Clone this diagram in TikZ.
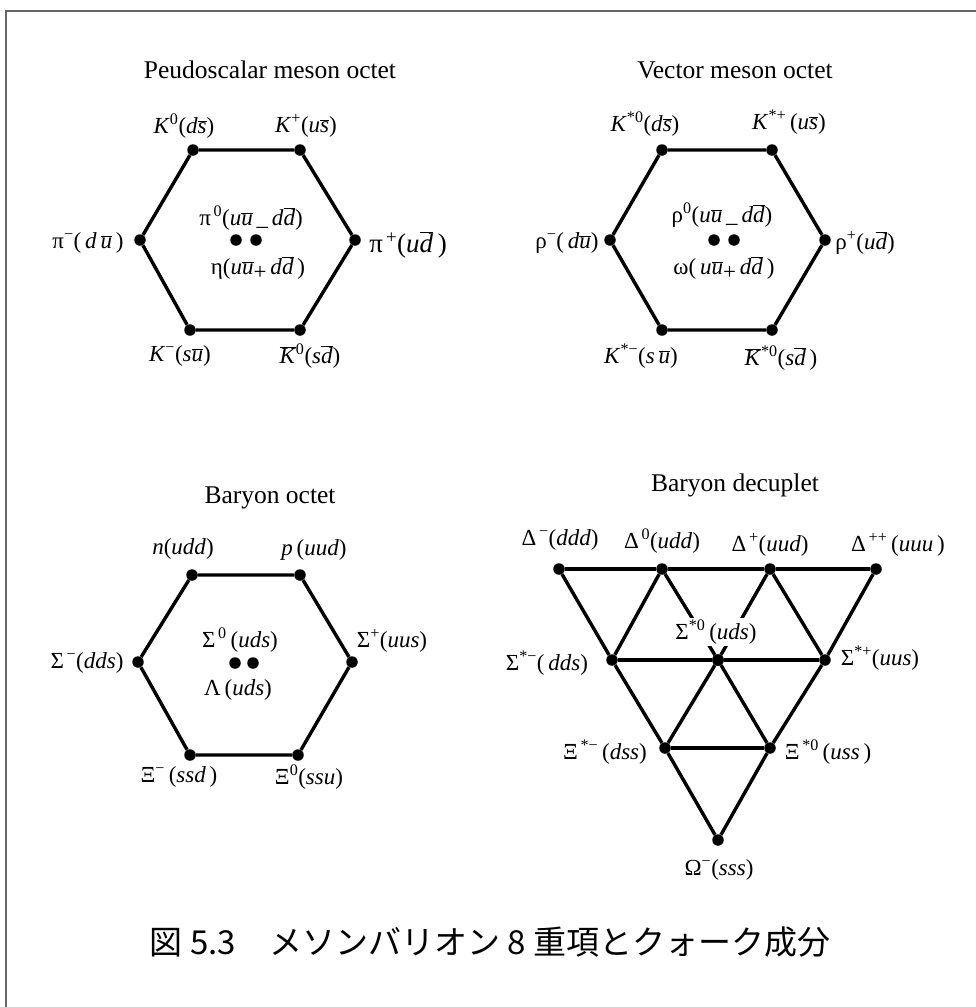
\documentclass[tikz,border=0pt]{standalone}
\usepackage{fontspec}
\setmainfont{Liberation Serif}
\newfontfamily\cjk{Noto Sans CJK JP}
\usetikzlibrary{positioning}

\newcommand{\qk}[1]{\textit{#1}}
\newcommand{\qbar}[1]{\ensuremath{\overline{\mbox{\textit{#1}}}}}
\newcommand{\hsup}[1]{\textsuperscript{#1}}

\begin{document}
\begin{tikzpicture}[x=1pt, y=-1pt,
                    edge/.style={line width=3.4pt, line join=round},
                    dot/.style={circle, fill, inner sep=0pt, minimum size=11.5pt},
                    lbl/.style={inner sep=1pt, font=\fontsize{23}{26}\selectfont},
                    big/.style={inner sep=1pt, font=\fontsize{27}{30}\selectfont},
                    ttl/.style={font=\fontsize{25.5}{30}\selectfont}]
  \useasboundingbox (0,0) rectangle (976,1007);
  \draw[gray!80!black, line width=2pt] (5.5,1007) -- (5.5,10.5) -- (976,10.5);
  % pseudoscalar octet
  \node[ttl] (tps) at (270,70) {Peudoscalar meson octet};
  \foreach \n/\x/\y in {a/193/150, b/300/150, c/355/240, d/300/330, e/190/330, f/140/240}
    \node[dot] (ps\n) at (\x,\y) {};
  \node[dot] (psm) at (236,240) {}; \node[dot] (pse0) at (256,240) {};
  \draw[edge] (psa) -- (psb) -- (psc) -- (psd) -- (pse) -- (psf) -- (psa);
  \node[lbl] (lK0) at (184,126) {\qk{K}\hsup{0}(\qk{d}\qbar{s})};
  \node[lbl] (lKp) at (306,126) {\qk{K}\hsup{+}(\qk{u}\qbar{s})};
  \node[lbl] (lpim) at (88,243) {π\hsup{−}(\,\qk{d}\,\qbar{u}\,)};
  \node[big] (lpip) at (408,245) {π\hsup{\,+}(\qk{u}\qbar{d}\,)};
  \node[lbl] (lpi0) at (251,218) {π\hsup{\,0}(\qk{u}\qbar{u}\,\_\,\qk{d}\qbar{d})};
  \node[lbl] (leta) at (258,268) {η(\qk{u}\qbar{u}\raisebox{-0.5ex}{+}\,\qk{d}\qbar{d}\,)};
  \node[lbl] (lKm) at (180,356) {\qk{K}\hsup{−}(\qk{s}\qbar{u})};
  \node[lbl] (lKb) at (310,356) {\qbar{K}\hsup{0}(\qk{s}\qbar{d})};
  % vector octet
  \node[ttl] (tvm) at (735,70) {Vector meson octet};
  \foreach \n/\x/\y in {a/662/150, b/772/150, c/825/240, d/772/330, e/662/330, f/610/240}
    \node[dot] (vm\n) at (\x,\y) {};
  \node[dot] (vmr) at (714,240) {}; \node[dot] (vmw) at (734,240) {};
  \draw[edge] (vma) -- (vmb) -- (vmc) -- (vmd) -- (vme) -- (vmf) -- (vma);
  \node[lbl] (lKs0) at (645,124) {\qk{K}\hsup{*0}(\qk{d}\qbar{s})};
  \node[lbl] (lKsp) at (789,122) {\qk{K}\hsup{*+}\,(\qk{u}\qbar{s})};
  \node[lbl] (lrhom) at (567,243) {ρ\hsup{−}(\,\qk{d}\qbar{u})};
  \node[lbl] (lrhop) at (865,243) {ρ\hsup{+}(\qk{u}\qbar{d})};
  \node[lbl] (lrho0) at (722,215) {ρ\hsup{0}(\qk{u}\qbar{u}\,\_\,\qk{d}\qbar{d})};
  \node[lbl] (lomg) at (724,268) {ω(\,\qk{u}\qbar{u}\raisebox{-0.5ex}{+}\,\qk{d}\qbar{d}\,)};
  \node[lbl] (lKsm) at (641,356) {\qk{K}\hsup{*−}(\qk{s}\,\qbar{u})};
  \node[lbl] (lKsb) at (781,358) {\qbar{K}\hsup{*0}(\qk{s}\qbar{d}\,)};
  % baryon octet
  \node[ttl] (tbo) at (270,498) {Baryon octet};
  \foreach \n/\x/\y in {a/192/575, b/300/575, c/352/662, d/298/755, e/190/755, f/138/662}
    \node[dot] (bo\n) at (\x,\y) {};
  \node[dot] (bos) at (235,663) {}; \node[dot] (bol) at (253,663) {};
  \draw[edge] (boa) -- (bob) -- (boc) -- (bod) -- (boe) -- (bof) -- (boa);
  \node[lbl] (ln) at (183,549) {\qk{n}(\qk{udd})};
  \node[lbl] (lp) at (314,550) {\qk{p}\,(\qk{uud})};
  \node[lbl] (lSm) at (87,663) {Σ\hsup{\,−}(\qk{dds})};
  \node[lbl] (lSp) at (392,641) {Σ\hsup{+}(\qk{uus})};
  \node[lbl] (lS0) at (240,640) {Σ\hsup{\,0}\,(\qk{uds})};
  \node[lbl] (lLam) at (238,690) {Λ\,(\qk{uds})};
  \node[lbl] (lXm) at (179,777) {Ξ\hsup{−}\,(\qk{ssd}\,)};
  \node[lbl] (lX0) at (309,777) {Ξ\hsup{0}(\qk{ssu})};
  % baryon decuplet
  \node[ttl] (tbd) at (735,485) {Baryon decuplet};
  \foreach \n/\x/\y in {d1/559/569, d2/662/569, d3/770/569, d4/876/569,
                        s1/612/660, s2/718/660, s3/825/660,
                        x1/665/748, x2/770/748, om/718/840}
    \node[dot] (\n) at (\x,\y) {};
  \draw[edge] (d1) -- (d2) -- (d3) -- (d4);
  \draw[edge] (s1) -- (s2) -- (s3);
  \draw[edge] (x1) -- (x2);
  \draw[edge] (d1) -- (s1) -- (x1) -- (om);
  \draw[edge] (d4) -- (s3) -- (x2) -- (om);
  \draw[edge] (d2) -- (s1);
  \draw[edge] (d2) -- (s2) -- (x2);
  \draw[edge] (d3) -- (s2) -- (x1);
  \draw[edge] (d3) -- (s3);
  \node[lbl, fill=white, inner sep=2pt] (lSs0) at (716,632) {Σ\hsup{*0}\,(\qk{uds})};
  \node[dot] at (s2) {};
  \node[lbl] (lDm) at (560,540) {Δ\hsup{\,−}(\qk{ddd})};
  \node[lbl] (lD0) at (662,541) {Δ\hsup{\,0}(\qk{udd})};
  \node[lbl] (lDp) at (770,545) {Δ\hsup{\,+}(\qk{uud})};
  \node[lbl] (lDpp) at (898,545) {Δ\hsup{\,++}\,(\qk{uuu}\,)};
  \node[lbl] (lSsm) at (547,663) {Σ\hsup{*−}(\,\qk{dds})};
  \node[lbl] (lSsp) at (880,658) {Σ\hsup{*+}(\qk{uus})};
  \node[lbl] (lXsm) at (605,752) {Ξ\hsup{\,*−}\,(\qk{dss})};
  \node[lbl] (lXs0) at (828,752) {Ξ\hsup{\,*0}\,(\qk{uss}\,)};
  \node[lbl] (lOm) at (719,870) {Ω\hsup{−}(\qk{sss})};
  % caption
  \node[font=\cjk\fontsize{33}{38}\selectfont] (cap) at (490,942)
    {図 5.3　メソンバリオン 8 重項とクォーク成分};
\end{tikzpicture}
\end{document}
